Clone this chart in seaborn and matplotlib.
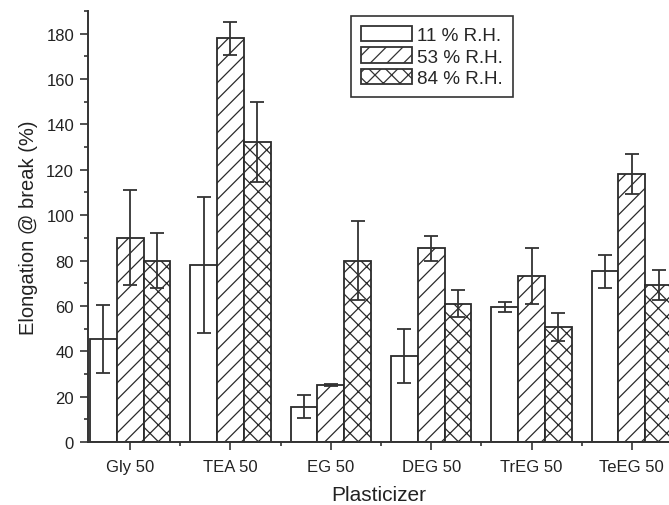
import numpy as np
import pandas as pd
import matplotlib
matplotlib.use("Agg")
import matplotlib.pyplot as plt
from matplotlib.ticker import MultipleLocator, FixedLocator
import seaborn as sns

categories = ["Gly 50", "TEA 50", "EG 50", "DEG 50", "TrEG 50", "TeEG 50"]
series = ["11 % R.H.", "53 % R.H.", "84 % R.H."]
vals_11 = [45.4, 78.0, 15.5, 38.0, 59.4, 75.2]
vals_53 = [90.0, 178.0, 25.0, 85.5, 73.2, 118.1]
vals_84 = [80.0, 132.3, 80.0, 61.0, 50.7, 69.3]
err_11 = [15.0, 30.0, 5.0, 12.0, 2.3, 7.4]
err_53 = [21.0, 7.2, 0.5, 5.5, 12.3, 8.7]
err_84 = [12.0, 17.5, 17.5, 6.0, 6.2, 6.7]

sns.set_theme(style="ticks")
plt.rcParams['font.family'] = ['Liberation Sans', 'DejaVu Sans']
plt.rcParams['hatch.linewidth'] = 0.9

rows = []
for s, v in zip(series, [vals_11, vals_53, vals_84]):
    for c, y in zip(categories, v):
        rows.append({"Plasticizer": c, "RH": s, "Elong": y})
df = pd.DataFrame(rows)

fig = plt.figure(figsize=(6.69, 5.06), dpi=100)
ax = fig.add_axes([0.1315, 0.1245, 0.8685, 0.8518])

sns.barplot(data=df, x="Plasticizer", y="Elong", hue="RH", order=categories,
            hue_order=series, errorbar=None, width=0.8, ax=ax,
            palette=["white", "white", "white"], edgecolor="#2a2a2a",
            linewidth=1.3, saturation=1)

hatches = ["", "//", "xx"]
errs = [err_11, err_53, err_84]
for cont, h, e in zip(ax.containers, hatches, errs):
    xs, ys = [], []
    for bar in cont:
        bar.set_hatch(h)
        bar.set_facecolor("white")
        bar.set_edgecolor("#2a2a2a")
        xs.append(bar.get_x() + bar.get_width() / 2)
        ys.append(bar.get_height())
    ax.errorbar(xs, ys, yerr=e, fmt="none", ecolor="#333333", elinewidth=1.3,
                capsize=5, capthick=1.3, zorder=5)

ax.set_xlim(-0.42, 5.37)
ax.set_ylim(0, 190)
ax.yaxis.set_major_locator(MultipleLocator(20))
ax.yaxis.set_minor_locator(MultipleLocator(10))
ax.xaxis.set_minor_locator(FixedLocator(np.arange(-0.5, 6, 1.0)))
ax.tick_params(axis="both", which="major", direction="out", length=6, width=1.2,
               labelsize=12, colors="#333333", labelcolor="#222222")
ax.tick_params(axis="both", which="minor", direction="out", length=3, width=1.2,
               colors="#333333")
ax.tick_params(axis="x", which="major", pad=6)
ax.tick_params(axis="y", which="major", pad=4)
for sp in ["top", "right"]:
    ax.spines[sp].set_visible(False)
for sp in ["left", "bottom"]:
    ax.spines[sp].set_linewidth(1.4)
    ax.spines[sp].set_color("#333333")

ax.set_xlabel("Plasticizer", fontsize=15, color="#222222", labelpad=8)
ax.set_ylabel("Elongation @ break (%)", fontsize=14.5, color="#222222", labelpad=6)

leg = ax.legend(loc="upper left", bbox_to_anchor=(0.453, 0.988), borderaxespad=0,
                fontsize=13.6, fancybox=False, framealpha=1, edgecolor="#333333",
                handlelength=2.7, handleheight=0.85, handletextpad=0.3,
                labelspacing=0.2, borderpad=0.5)
leg.get_frame().set_linewidth(1.2)
for patch, h in zip(leg.get_patches(), hatches):
    patch.set_hatch(h)
    patch.set_facecolor("white")
    patch.set_edgecolor("#333333")

fig.savefig("out.png", dpi=100)
